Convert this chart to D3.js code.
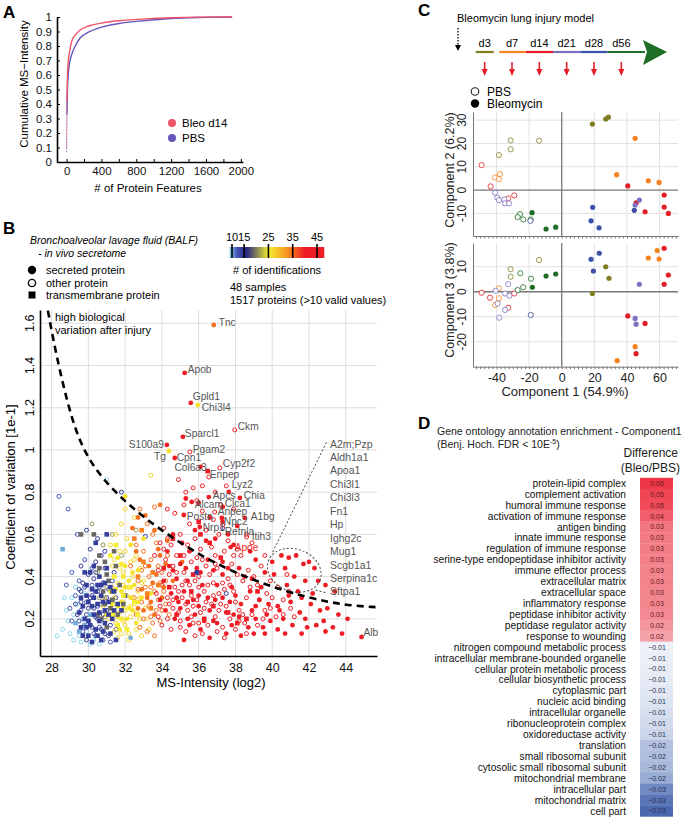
<!DOCTYPE html>
<html>
<head>
<meta charset="utf-8">
<script src="https://cdn.jsdelivr.net/npm/d3@7"></script>
<style>
  body { margin: 0; background: #fff; }
  svg { display: block; font-family: "Liberation Sans", Arial, sans-serif; }
</style>
</head>
<body>
<svg id="fig" width="685" height="818"></svg>
<script>
var FONT = '"Liberation Sans", Arial, sans-serif';

/* ---------- Panel A : cumulative intensity ---------- */
var cumBleo = [[0,0.1],[4,0.42],[10,0.6],[20,0.7],[40,0.78],[60,0.835],[100,0.875],[155,0.91],[250,0.938],[400,0.958],[600,0.974],[900,0.987],[1200,0.995],[1500,0.999],[1900,1]];
var cumPBS  = [[0,0.07],[4,0.33],[10,0.5],[20,0.61],[40,0.7],[70,0.76],[100,0.8],[155,0.855],[250,0.895],[400,0.93],[600,0.955],[900,0.976],[1200,0.99],[1500,0.997],[1900,1]];

/* ---------- Panel B : CV vs intensity ---------- */
var idTicks = [10, 15, 25, 35, 45];
// [intensity(log2), CV] per colour group
var otherCyan = [[28.3,0.12],[28.6,0.15],[28.9,0.19],[29.2,0.22],[29.0,0.13],[29.5,0.12],[28.8,0.24],[29.6,0.09],[30.1,0.08],[29.8,0.32],[31.0,0.86],[29.4,0.27],[29.2,0.1],[29.7,0.2],[30.3,0.1],[29.9,0.14],[30.6,0.08],[29.3,0.35],[29.1,0.3],[28.7,0.3]];
var otherBlue = [[28.4,0.78],[28.9,0.72],[29.4,0.6],[29.8,0.48],[29.1,0.42],[29.5,0.38],[30.2,0.36],[28.8,0.36],[29.3,0.31],[29.9,0.28],[29.6,0.24],[29.1,0.19],[30.0,0.19],[29.7,0.14],[30.3,0.13],[30.6,0.16],[30.8,0.1],[31.2,0.09],[30.5,0.26],[30.9,0.3],[31.3,0.22],[30.2,0.44],[29.0,0.25]];
var otherNavy = [[31.8,0.8],[29.9,0.62],[30.5,0.58],[30.1,0.53],[30.7,0.5],[29.6,0.45],[30.4,0.47],[30.9,0.44],[30.0,0.41],[29.5,0.34],[30.3,0.39],[30.8,0.37],[29.8,0.35],[30.5,0.33],[31.1,0.34],[29.4,0.22],[30.2,0.31],[29.9,0.22],[30.7,0.27],[30.3,0.25],[31.0,0.24],[30.5,0.2],[29.8,0.17],[31.2,0.17],[30.4,0.12],[31.5,0.15],[30.9,0.13],[29.6,0.28],[31.4,0.42],[33.1,0.59],[35.9,0.42],[37.5,0.32],[37.3,0.63],
  [29.7,0.37],[30.1,0.3],[30.4,0.21],[29.5,0.19],[30.8,0.22],[31.1,0.12],[29.9,0.1],[30.6,0.35],[31.3,0.38],[30.0,0.25],[29.3,0.27],[30.7,0.15],[31.0,0.3],[30.2,0.16],[29.6,0.33],[31.5,0.3],[30.4,0.42],[30.9,0.52]];
var otherGreenYellow = [[30.2,0.65],[31.3,0.6],[30.8,0.55],[31.0,0.35],[30.6,0.3],[31.4,0.27],[30.9,0.21],[31.8,0.5],[32.6,0.62],[30.5,0.42]];
var otherYellow = [[33.4,0.88],[32.0,0.72],[31.8,0.65],[32.5,0.68],[31.5,0.6],[32.1,0.58],[32.6,0.5],[31.7,0.52],[32.3,0.47],[31.3,0.45],[31.9,0.42],[32.4,0.4],[31.6,0.37],[32.2,0.35],[32.7,0.33],[31.4,0.3],[31.9,0.28],[32.5,0.27],[31.2,0.25],[31.7,0.23],[32.3,0.21],[32.8,0.2],[31.5,0.18],[32.0,0.17],[32.6,0.15],[31.8,0.13],[32.9,0.12],[31.1,0.2],[30.9,0.3],[32.4,0.3],[33.1,0.25],[32.2,0.1],[31.6,0.11],[33.0,0.38],[32.8,0.44],[31.2,0.55],[30.8,0.26],[33.3,0.15],[31.4,0.14],[32.0,0.24],
  [31.9,0.36],[32.3,0.26],[31.5,0.22],[32.1,0.31],[32.6,0.23],[31.3,0.35],[32.8,0.3],[31.7,0.44],[32.5,0.48],[32.0,0.52],[31.4,0.48],[32.9,0.37],[32.2,0.13],[31.9,0.19],[33.2,0.2]];
var otherOrange = [[32.8,0.72],[33.2,0.65],[33.5,0.6],[32.6,0.55],[33.0,0.52],[33.4,0.48],[33.8,0.45],[32.9,0.43],[33.3,0.4],[34.0,0.42],[32.7,0.38],[33.1,0.35],[33.6,0.33],[34.1,0.33],[32.5,0.3],[32.9,0.28],[33.3,0.26],[33.7,0.24],[32.6,0.22],[33.0,0.2],[33.5,0.18],[32.8,0.16],[33.2,0.14],[34.2,0.27],[34.4,0.22],[33.9,0.19],[33.7,0.56],[34.3,0.5],[32.3,0.45],[33.6,0.12],[33.6,0.73],
  [33.4,0.35],[33.9,0.37],[34.2,0.38],[33.1,0.45],[33.8,0.29],[34.0,0.24],[33.4,0.21],[32.7,0.34]];
var otherRed = [[34.9,0.86],[35.3,0.8],[35.7,0.82],[36.2,0.83],[36.9,0.8],[35.2,0.74],[35.9,0.76],[36.2,0.71],[37.2,0.74],[37.5,0.83],[37.9,0.72],[36.8,0.67],[35.5,0.65],[34.3,0.72],[34.7,0.7],[34.1,0.63],[35.0,0.6],[35.8,0.58],[36.4,0.62],[37.1,0.6],[37.6,0.57],[38.6,0.6],[38.9,0.56],[38.3,0.5],[37.4,0.52],[36.9,0.5],[36.1,0.53],[35.4,0.55],[34.5,0.55],[33.9,0.56],[33.6,0.5],[34.2,0.48],[34.8,0.5],[35.6,0.47],[36.4,0.45],[37.0,0.44],[37.8,0.46],[38.7,0.43],[39.4,0.45],[39.9,0.38],[40.3,0.35],[39.2,0.36],[38.4,0.38],[37.6,0.39],[36.8,0.37],[36.0,0.4],[35.2,0.42],[34.4,0.41],[33.8,0.43],[34.0,0.36],[34.7,0.35],[35.5,0.36],[36.3,0.33],[37.1,0.32],[37.9,0.33],[38.6,0.3],[39.3,0.29],[40.0,0.3],[40.6,0.29],[39.6,0.24],[38.9,0.22],[38.2,0.24],[37.5,0.26],[36.7,0.27],[35.9,0.29],[35.1,0.3],[34.3,0.3],[33.7,0.32],[33.9,0.26],[34.6,0.25],[35.4,0.24],[36.1,0.23],[36.9,0.21],[37.7,0.2],[38.5,0.18],[39.2,0.17],[38.0,0.15],[37.3,0.16],[36.5,0.17],[35.7,0.18],[35.0,0.19],[34.3,0.2],[33.8,0.21],[34.5,0.15],[35.3,0.14],[36.2,0.13],[37.4,0.11],[38.6,0.13],[39.5,0.2],[40.2,0.21],[41.0,0.25],[40.6,0.22],[35.8,0.12],[34.0,0.17],[34.6,0.45],[35.3,0.38],[36.6,0.41],[37.3,0.37],[38.1,0.41],[34.9,0.33],[35.7,0.26],[36.4,0.28],[37.2,0.27],[38.0,0.28],[39.0,0.4],[41.2,0.21],[40.9,0.33],[36.7,0.54],[35.9,0.49],[34.1,0.53],[36.0,0.35],[35.6,0.31],[34.4,0.27],[37.9,0.5],
  [34.8,0.42],[35.1,0.36],[35.8,0.38],[36.5,0.36],[37.4,0.34],[34.9,0.23],[35.6,0.21],[36.3,0.25],[37.1,0.24],[38.4,0.22],[34.6,0.29],[35.3,0.27],[36.8,0.31],[37.7,0.36],[38.8,0.35],[39.7,0.32],[35.0,0.16],[36.0,0.18],[37.0,0.14],[38.2,0.19],[39.9,0.25],[34.3,0.58],[35.2,0.5],[36.2,0.48],[36.9,0.46],[38.1,0.53],[39.6,0.5],[40.8,0.41]];
var secretedCyan = [[32.3,0.11]];
var secretedYellow = [[32.0,0.78],[33.0,0.58],[32.3,0.55],[31.6,0.49],[32.0,0.45],[32.7,0.43],[31.4,0.4],[32.2,0.38],[31.8,0.33],[32.4,0.24],[31.3,0.27],[32.1,0.2],[31.7,0.15],[32.6,0.18],[31.0,0.22],[33.4,0.32],[32.9,0.3],[31.9,0.25],[32.5,0.36],[31.5,0.34],
  [31.8,0.28],[32.3,0.3],[31.6,0.21],[32.0,0.35],[32.7,0.28],[31.2,0.33],[32.4,0.42]];
var secretedOrange = [[33.1,0.69],[32.4,0.63],[33.6,0.62],[33.9,0.5],[32.8,0.48],[33.3,0.45],[34.2,0.46],[33.5,0.37],[32.9,0.34],[34.0,0.3],[33.2,0.3],[32.7,0.25],[33.6,0.22],[33.0,0.24],[34.3,0.57],[34.6,0.38],[35.1,0.47],[33.9,0.74],[32.7,0.68],
  [33.7,0.41],[34.1,0.35],[33.4,0.28],[33.8,0.53],[32.6,0.52]];
var secretedRed = [[35.3,0.77],[36.0,0.75],[36.6,0.68],[37.3,0.66],[38.1,0.64],[36.9,0.58],[35.8,0.62],[35.1,0.56],[34.6,0.6],[37.9,0.55],[38.8,0.52],[39.1,0.48],[38.2,0.44],[37.3,0.41],[36.5,0.48],[35.9,0.44],[35.0,0.46],[34.4,0.45],[39.6,0.42],[40.0,0.47],[40.5,0.5],[40.9,0.49],[41.3,0.5],[41.7,0.46],[42.0,0.47],[42.3,0.44],[40.7,0.44],[41.2,0.4],[41.8,0.38],[42.5,0.38],[42.9,0.36],[43.4,0.33],[42.2,0.32],[40.8,0.36],[41.4,0.33],[39.4,0.35],[38.8,0.33],[37.8,0.35],[37.0,0.36],[36.2,0.36],[35.4,0.38],[34.8,0.39],[34.1,0.38],[34.5,0.32],[35.2,0.33],[36.0,0.31],[36.9,0.29],[37.7,0.28],[38.3,0.27],[39.1,0.26],[39.8,0.27],[40.3,0.26],[41.0,0.28],[41.6,0.3],[42.6,0.24],[43.0,0.25],[41.5,0.23],[40.6,0.2],[39.9,0.19],[39.1,0.2],[38.2,0.21],[37.5,0.23],[36.6,0.24],[35.8,0.22],[35.0,0.25],[34.2,0.24],[34.7,0.2],[35.5,0.17],[36.3,0.19],[37.0,0.18],[37.8,0.17],[38.7,0.16],[39.5,0.16],[40.3,0.15],[41.1,0.17],[41.9,0.16],[42.4,0.17],[42.8,0.19],[43.6,0.22],[44.1,0.2],[43.3,0.16],[43.8,0.13],[41.6,0.13],[40.7,0.13],[35.2,0.1],[36.6,0.11],[37.5,0.13],[38.3,0.12],[39.6,0.13],[36.1,0.15],[34.9,0.28],[33.9,0.29],[34.3,0.52],[37.3,0.47],[38.5,0.4],[40.1,0.41],[39.3,0.29],[40.9,0.31],[42.1,0.27],[36.4,0.57],[37.6,0.6],[35.5,0.52],[38.9,0.39],[36.1,0.92],
  [34.6,0.43],[35.3,0.44],[36.1,0.42],[36.8,0.43],[37.6,0.44],[34.8,0.3],[35.7,0.29],[36.5,0.3],[37.3,0.3],[38.0,0.31],[35.4,0.2],[36.0,0.26],[36.8,0.19],[37.9,0.22],[38.9,0.24],[39.7,0.22],[40.4,0.24],[41.8,0.2],[42.9,0.14],[39.0,0.13]];
var membraneCyan = [[28.6,0.53],[29.5,0.14],[29.8,0.17],[30.1,0.22],[29.3,0.18]];
var membraneNavy = [[31.0,0.6],[30.4,0.56],[29.8,0.42],[30.1,0.42],[30.6,0.4],[30.9,0.37],[30.2,0.34],[30.7,0.31],[29.6,0.3],[30.0,0.28],[30.5,0.27],[30.9,0.24],[30.3,0.22],[29.8,0.2],[30.6,0.19],[30.1,0.17],[30.8,0.14],[29.6,0.16],[30.4,0.15],[31.3,0.2],[31.1,0.28],[29.5,0.23],[30.0,0.12],[30.7,0.1],[31.4,0.33],[29.7,0.26],[30.3,0.3],[31.2,0.13],[30.9,0.18],[31.6,0.27],[31.0,0.44],[31.8,0.24],[30.5,0.36],[29.9,0.36],[30.2,0.09],[31.5,0.1],[35.9,0.42],
  [30.2,0.26],[30.6,0.23],[29.9,0.31],[30.4,0.33],[30.8,0.28],[31.2,0.35],[30.0,0.19],[30.5,0.12],[29.7,0.12],[31.4,0.24],[30.3,0.45],[29.9,0.16],[30.7,0.36],[31.1,0.22]];
var membraneGray = [[30.3,0.6],[30.6,0.5],[30.9,0.47],[31.3,0.29],[30.6,0.44],[31.1,0.38],[31.5,0.45],[30.8,0.33],[31.7,0.36],[31.2,0.25],[30.5,0.22],[31.0,0.16],[32.0,0.31],[31.4,0.52],[29.6,0.6],
  [30.9,0.27],[31.3,0.33],[30.7,0.2],[31.6,0.22],[31.0,0.41],[31.9,0.27]];
var membraneYellow = [[31.5,0.55],[31.2,0.5],[31.8,0.46],[31.9,0.31],[31.6,0.26],[31.3,0.22],[31.6,0.17],[32.2,0.25],[31.9,0.4],[32.3,0.35],[31.8,0.2],[32.5,0.28],[31.4,0.4],[32.1,0.15],[32.7,0.22]];
var membraneOrange = [[32.5,0.58],[33.0,0.47],[33.5,0.42],[32.7,0.4],[33.2,0.32],[33.8,0.36],[33.4,0.25],[32.9,0.62]];
var membraneRed = [[34.6,0.58],[35.0,0.5],[35.7,0.41],[36.1,0.6],[36.6,0.56],[37.2,0.49],[38.1,0.18],[38.6,0.2],[34.4,0.35],[35.4,0.28],[36.8,0.26],[36.0,0.66],[34.1,0.44],[35.6,0.33],[37.6,0.23],[39.2,0.33],[36.3,0.2],[34.8,0.22]];

// labelled proteins: name, intensity, CV, # identifications, type
var labeled = [
  ["Tnc",36.82,1.592,35,"secreted"],["Apob",35.24,1.365,46,"secreted"],["Gpld1",35.57,1.223,46,"secreted"],
  ["Chi3l4",35.95,1.213,26,"secreted"],["Ckm",37.96,1.095,46,"other"],["Sparcl1",35.14,1.062,46,"secreted"],
  ["S100a9",34.27,1.024,46,"secreted"],["Tg",34.38,0.995,26,"secreted"],["Pgam2",35.52,0.991,46,"other"],
  ["Cpn1",34.70,0.962,46,"secreted"],["Col6a3",36.49,0.900,46,"membrane"],["Enpep",36.55,0.872,46,"other"],
  ["Cyp2f2",37.15,0.915,46,"other"],["Lyz2",37.64,0.801,46,"secreted"],["Chia",38.24,0.773,46,"secreted"],
  ["Apcs",36.55,0.777,46,"secreted"],["Alcam",35.62,0.754,46,"secreted"],["Clca1",37.31,0.730,46,"secreted"],
  ["Anpep",36.87,0.706,46,"other"],["A1bg",38.51,0.678,46,"secreted"],["Postn",35.19,0.692,46,"secreted"],
  ["Npc2",37.26,0.678,46,"secreted"],["Nrp1",36.06,0.635,46,"secreted"],["Retnla",37.31,0.645,46,"other"],
  ["Itih3",38.61,0.588,46,"other"],["Apoe",37.74,0.540,46,"secreted"],["Alb",44.86,0.114,46,"secreted"]
];
var labelOffset = {
  Tnc:[5,1],Apob:[3,0],Gpld1:[2,-3],Chi3l4:[4,6],Ckm:[3,0],Sparcl1:[2,0],S100a9:[-3,3,"end"],Tg:[-3,9,"end"],
  Pgam2:[3,1],Cpn1:[2,3],Col6a3:[-1,0,"end"],Enpep:[1,1],Cyp2f2:[3,-1],Lyz2:[3,-4],Chia:[4,1],Apcs:[4,2],
  Alcam:[3,6],Clca1:[2,0],Anpep:[3,3],A1bg:[6,2],Postn:[3,5],Npc2:[2,7],Nrp1:[3,4],Retnla:[2,10],Itih3:[5,3],
  Apoe:[4,4],Alb:[2,-1]
};
var clusterGenes = ["A2m;Pzp","Aldh1a1","Apoa1","Chi3l1","Chi3l3","Fn1","Hp","Ighg2c","Mug1","Scgb1a1","Serpina1c","Sftpa1"];
var hiVarCurve = [[27.8,1.66],[28.2,1.47],[29.1,1.13],[30.0,0.95],[31.3,0.81],[33.0,0.68],[34.8,0.57],[36.8,0.465],[39.3,0.37],[41.9,0.30],[43.9,0.265],[45.7,0.255]];

/* ---------- Panel C : PCA ---------- */
var timepoints = ["d3","d7","d14","d21","d28","d56"];
var tpColors = ["#7f7f22","#f5821f","#e31e26","#7c70c2","#3d4fa6","#1e6e26"];
// [timepoint, component 1, component 2]
var pcaTopPBS = [["d14",-49.1,10.7],["d14",-43.6,1.6],["d14",-32.8,-3.6],["d14",-29.1,-2.3],["d7",-40.9,5.4],["d7",-38.5,4.7],["d7",-37.9,6.9],
  ["d3",-38.5,15],["d3",-31.3,17.5],["d3",-31.3,21.3],["d3",-13.9,21.2],["d21",-40.9,-1.1],["d21",-39.5,-3.3],["d21",-38.5,-4.3],
  ["d21",-35.2,-4.0],["d21",-34.8,-5.7],["d21",-32.3,-5.7],["d56",-25.6,-10.3],["d56",-27,-11.6],["d56",-23.6,-12.6],["d56",-19,-12.6],["d28",-19.2,-13.2]];
var pcaTopBleo = [["d56",-18.2,-9.7],["d56",-9.6,-16.7],["d56",-3.7,-15.9],["d3",18.8,28.3],["d3",27,30.5],["d3",28.6,31.3],
  ["d7",45,22.2],["d7",33.7,6.6],["d7",53.1,4],["d7",59.7,3.3],["d14",40.5,1.8],["d14",62.8,-2.1],["d14",62.8,-7.3],["d14",65.4,-10],
  ["d14",51.1,-9.3],["d14",45.6,-5.5],["d21",45,-6.4],["d21",47.6,-4.3],["d28",44.5,-8.7],["d28",19,-7.4],["d28",18,-13.2],["d28",22.9,-16.2]];
// [timepoint, component 1, component 3]
var pcaBotPBS = [["d14",-49.1,-0.4],["d14",-44,-2.4],["d14",-32.8,-6.4],["d14",-29.1,-0.7],["d7",-40.9,-5.3],["d7",-38.5,1.4],["d7",-38.5,-2.6],
  ["d21",-40.5,0.4],["d21",-39.3,-4.7],["d21",-38.3,-10.4],["d21",-34.8,-0.7],["d21",-32.8,3],["d21",-32.1,-1.6],["d21",-34.8,-7.3],
  ["d3",-31.3,9],["d3",-31.3,6],["d3",-13.9,12.7],["d56",-25.4,7.4],["d56",-27,0.7],["d56",-23.6,1.8],["d56",-18.8,5.2],["d28",-19,-9.3]];
var pcaBotBleo = [["d56",-18,1.8],["d56",-9.6,6.3],["d56",-3.7,7.1],["d28",18,13],["d28",23,15.4],["d28",19.4,8.3],["d21",47.6,3],
  ["d21",45,-10.7],["d21",45.6,-13],["d3",27,10],["d3",29,5.4],["d3",18.8,-0.7],["d7",53.1,13.5],["d7",59.7,13.1],["d7",58.5,16.5],
  ["d7",45,-22],["d7",34,-27.6],["d14",62.8,17.4],["d14",65.4,6.7],["d14",62.8,3],["d14",40.5,-9.7],["d14",51.1,-12.7],["d14",45.6,-24.8]];

/* ---------- Panel D : GO enrichment ---------- */
var goTerms = ["protein-lipid complex","complement activation","humoral immune response","activation of immune response",
  "antigen binding","innate immune response","regulation of immune response","serine-type endopeptidase inhibitor activity",
  "immune effector process","extracellular matrix","extracellular space","inflammatory response","peptidase inhibitor activity",
  "peptidase regulator activity","response to wounding","nitrogen compound metabolic process","intracellular membrane-bounded organelle",
  "cellular protein metabolic process","cellular biosynthetic process","cytoplasmic part","nucleic acid binding","intracellular organelle",
  "ribonucleoprotein complex","oxidoreductase activity","translation","small ribosomal subunit","cytosolic small ribosomal subunit",
  "mitochondrial membrane","intracellular part","mitochondrial matrix","cell part"];
var goDiff = [0.054,0.050,0.048,0.042,0.034,0.033,0.032,0.031,0.030,0.030,0.029,0.029,0.028,0.024,0.020,
  -0.006,-0.007,-0.008,-0.009,-0.010,-0.011,-0.012,-0.013,-0.014,-0.018,-0.019,-0.020,-0.022,-0.027,-0.030,-0.032];

var svg = d3.select("#fig");
svg.append("rect").attr("width", 685).attr("height", 818).attr("fill", "#fff");

function panelLetter(t, x, y) {
  svg.append("text").attr("x", x).attr("y", y).attr("font-size", 17).attr("font-weight", "bold").text(t);
}
function styleAxis(g, size, color) {
  g.attr("font-family", FONT).attr("font-size", size);
  g.selectAll("text").attr("fill", color || "#111");
}

drawA();
drawB();
drawC();
drawD();

function drawA() {
  panelLetter("A", 3, 18);
  var x = d3.scaleLinear().domain([-110, 2025]).range([57, 243]);
  var y = d3.scaleLinear().domain([0, 1]).range([162, 17]);
  var g = svg.append("g");

  var gx = g.append("g").attr("transform", "translate(0,162)")
    .call(d3.axisBottom(x).tickValues(d3.range(0, 2001, 200)).tickSize(-3).tickSizeOuter(0).tickPadding(5)
      .tickFormat(function (d) { return d % 400 === 0 ? d : ""; }));
  styleAxis(gx, 11.5);
  gx.select(".domain").attr("stroke-width", 1.6);

  var gy = g.append("g").attr("transform", "translate(57,0)")
    .call(d3.axisLeft(y).tickValues(d3.range(11).map(function (i) { return i / 10; })).tickSize(-3).tickSizeOuter(0).tickPadding(5)
      .tickFormat(function (d) { return d === 0 ? "0" : d === 1 ? "1" : d3.format(".1f")(d); }));
  styleAxis(gy, 11.5);
  gy.select(".domain").attr("stroke-width", 1.6);

  var line = d3.line().x(function (d) { return x(d[0]); }).y(function (d) { return y(d[1]); }).curve(d3.curveMonotoneX);
  [[cumPBS, "#6655bb"], [cumBleo, "#ee5468"]].forEach(function (s) {
    g.append("path").attr("d", line(s[0].slice(0, 2))).attr("fill", "none").attr("stroke", s[1])
      .attr("stroke-width", 1.2).attr("stroke-dasharray", "1,2");
    g.append("path").attr("d", line(s[0].slice(1))).attr("fill", "none").attr("stroke", s[1]).attr("stroke-width", 1.4);
  });

  g.append("text").attr("transform", "translate(28,84) rotate(-90)").attr("text-anchor", "middle")
    .attr("font-size", 11.5).text("Cumulative MS\u2212Intensity");
  g.append("text").attr("x", 148).attr("y", 192).attr("text-anchor", "middle").attr("font-size", 11.5).text("# of Protein Features");

  [["Bleo d14", "#ee5468", 123], ["PBS", "#6655bb", 138]].forEach(function (l) {
    g.append("circle").attr("cx", 172).attr("cy", l[2]).attr("r", 4).attr("fill", l[1]);
    g.append("text").attr("x", 182).attr("y", l[2] + 4).attr("font-size", 11.5).text(l[0]);
  });
}

function drawB() {
  panelLetter("B", 3, 234);
  var x = d3.scaleLinear().domain([27.37, 45.7]).range([40, 377]);
  var y = d3.scaleLinear().domain([0.024, 1.663]).range([656, 310]);
  var idColor = d3.scaleLinear().domain([9, 12, 16, 25, 33, 40, 48])
    .range(["#8ad8ea", "#4656b6", "#262680", "#f4ee30", "#f7901e", "#ee1c24", "#ee1c24"]);
  var g = svg.append("g");

  // header legend
  g.append("text").attr("x", 30).attr("y", 244).attr("font-size", 10.5).attr("font-style", "italic").text("Bronchoalveolar lavage fluid (BALF)");
  g.append("text").attr("x", 38).attr("y", 257).attr("font-size", 10.5).attr("font-style", "italic").text("- in vivo secretome");
  g.append("circle").attr("cx", 32).attr("cy", 270).attr("r", 4.2).attr("fill", "#000");
  g.append("circle").attr("cx", 32).attr("cy", 283).attr("r", 3.6).attr("fill", "none").attr("stroke", "#000").attr("stroke-width", 1.4);
  g.append("rect").attr("x", 28.5).attr("y", 291.5).attr("width", 7).attr("height", 7).attr("fill", "#000");
  [["secreted protein", 274], ["other protein", 287], ["transmembrane protein", 299]].forEach(function (l) {
    g.append("text").attr("x", 46).attr("y", l[1]).attr("font-size", 11).text(l[0]);
  });

  // colour bar
  var cx = d3.scaleLinear().domain([10, 45]).range([232, 317]);
  var grad = svg.append("defs").append("linearGradient").attr("id", "idgrad");
  idColor.domain().forEach(function (d, i) {
    grad.append("stop").attr("offset", (d - 9) / (48 - 9)).attr("stop-color", idColor.range()[i]);
  });
  g.append("rect").attr("x", cx(9)).attr("y", 247).attr("width", cx(48) - cx(9)).attr("height", 11).attr("fill", "url(#idgrad)");
  idTicks.forEach(function (t) {
    g.append("line").attr("x1", cx(t)).attr("x2", cx(t)).attr("y1", 244).attr("y2", 258).attr("stroke", "#000").attr("stroke-width", 1.6);
    g.append("text").attr("x", cx(t)).attr("y", 241).attr("text-anchor", "middle").attr("font-size", 11).text(t);
  });
  g.append("text").attr("x", 277).attr("y", 274).attr("text-anchor", "middle").attr("font-size", 11).text("# of identifications");
  g.append("text").attr("x", 230).attr("y", 291).attr("font-size", 11).text("48 samples");
  g.append("text").attr("x", 230).attr("y", 304).attr("font-size", 11).text("1517 proteins (>10 valid values)");

  // grid
  var xt = d3.range(28, 45, 2), yt = [0.2, 0.4, 0.6, 0.8, 1, 1.2, 1.4, 1.6];
  g.append("g").selectAll("line").data(xt).join("line")
    .attr("x1", x).attr("x2", x).attr("y1", 310).attr("y2", 656).attr("stroke", "#dedede");
  g.append("g").selectAll("line").data(yt).join("line")
    .attr("y1", y).attr("y2", y).attr("x1", 40).attr("x2", 377).attr("stroke", "#dedede");

  svg.select("defs").append("clipPath").attr("id", "clipB").append("rect")
    .attr("x", 40).attr("y", 310).attr("width", 337).attr("height", 346);
  var pg = g.append("g").attr("clip-path", "url(#clipB)");

  var groups = [
    ["other", 9, otherCyan], ["other", 12, otherBlue], ["other", 14, otherNavy], ["other", 21, otherGreenYellow],
    ["other", 27, otherYellow], ["other", 35, otherOrange], ["other", 46, otherRed],
    ["secreted", 10, secretedCyan], ["secreted", 26, secretedYellow], ["secreted", 35, secretedOrange], ["secreted", 47, secretedRed],
    ["membrane", 10, membraneCyan], ["membrane", 19, membraneGray], ["membrane", 25, membraneYellow],
    ["membrane", 34, membraneOrange], ["membrane", 47, membraneRed], ["membrane", 14, membraneNavy]
  ];
  function drawPts(pts, shape, colorOf) {
    if (shape === "membrane") {
      pg.append("g").selectAll("rect").data(pts).join("rect")
        .attr("x", function (d) { return x(d[0]) - 2.3; }).attr("y", function (d) { return y(d[1]) - 2.3; })
        .attr("width", 4.6).attr("height", 4.6).attr("fill", colorOf);
    } else {
      pg.append("g").selectAll("circle").data(pts).join("circle")
        .attr("cx", function (d) { return x(d[0]); }).attr("cy", function (d) { return y(d[1]); })
        .attr("r", shape === "other" ? 2 : 2.4)
        .attr("fill", shape === "other" ? "none" : colorOf)
        .attr("stroke", shape === "other" ? colorOf : "none").attr("stroke-width", 1);
    }
  }
  groups.forEach(function (gr) { drawPts(gr[2], gr[0], idColor(gr[1])); });
  ["other", "secreted", "membrane"].forEach(function (s) {
    drawPts(labeled.filter(function (d) { return d[4] === s; }).map(function (d) { return [d[1], d[2], d[3]]; }), s,
      function (d) { return idColor(d[2]); });
  });

  // high-variation curve
  g.append("path").attr("clip-path", "url(#clipB)")
    .attr("d", d3.line().x(function (d) { return x(d[0]); }).y(function (d) { return y(d[1]); }).curve(d3.curveBasis)(hiVarCurve))
    .attr("fill", "none").attr("stroke", "#000").attr("stroke-width", 2.6).attr("stroke-dasharray", "7,5");
  g.append("text").attr("x", 55).attr("y", 321).attr("font-size", 11).text("high biological");
  g.append("text").attr("x", 55).attr("y", 334).attr("font-size", 11).text("variation after injury");

  // labels
  labeled.forEach(function (d) {
    var o = labelOffset[d[0]];
    g.append("text").attr("x", x(d[1]) + o[0]).attr("y", y(d[2]) + o[1]).attr("text-anchor", o[2] || "start")
      .attr("font-size", 10.2).attr("fill", d[0] === "Apoe" ? "#ee1c24" : "#555").text(d[0]);
  });

  // cluster annotation
  var ex = x(41.2), ey = y(0.43);
  g.append("ellipse").attr("cx", ex).attr("cy", ey).attr("rx", x(42.7) - x(41.2)).attr("ry", y(0.33) - y(0.43))
    .attr("transform", "rotate(20," + ex + "," + ey + ")")
    .attr("fill", "none").attr("stroke", "#444").attr("stroke-dasharray", "2,2");
  g.append("line").attr("x1", x(40.03)).attr("y1", y(0.517)).attr("x2", x(42.96)).attr("y2", y(1.038))
    .attr("stroke", "#444").attr("stroke-dasharray", "2,2");
  g.append("line").attr("x1", x(42.36)).attr("y1", y(0.336)).attr("x2", x(43.0)).attr("y2", y(0.322))
    .attr("stroke", "#444").attr("stroke-dasharray", "2,2");
  var gy = d3.scalePoint().domain(clusterGenes).range([y(1.03), y(0.33)]);
  g.selectAll(".cg").data(clusterGenes).join("text").attr("x", 330).attr("y", function (d) { return gy(d) + 4; })
    .attr("font-size", 10.5).attr("fill", "#555").text(function (d) { return d; });

  // axes
  var ax = g.append("g").attr("transform", "translate(0,656)")
    .call(d3.axisBottom(x).tickValues(xt).tickSize(0).tickPadding(7).tickSizeOuter(0));
  styleAxis(ax, 12.5);
  ax.select(".domain").attr("stroke-width", 1.6);
  var ay = g.append("g").attr("transform", "translate(40,0)")
    .call(d3.axisLeft(y).tickValues(yt).tickSize(0).tickFormat("").tickSizeOuter(0));
  ay.select(".domain").attr("stroke-width", 1.6);
  g.selectAll(".ytl").data(yt).join("text")
    .attr("transform", function (d) { return "translate(34," + y(d) + ") rotate(-90)"; })
    .attr("text-anchor", "middle").attr("font-size", 12.5).text(function (d) { return d === 1 ? "1" : d3.format(".1f")(d); });
  g.append("text").attr("transform", "translate(15,487) rotate(-90)").attr("text-anchor", "middle")
    .attr("font-size", 13).text("Coefficient of variation [1e-1]");
  g.append("text").attr("x", 211).attr("y", 687).attr("text-anchor", "middle").attr("font-size", 13).text("MS-Intensity (log2)");
}

function drawC() {
  panelLetter("C", 418, 16);
  var g = svg.append("g");
  var color = d3.scaleOrdinal().domain(timepoints).range(tpColors);
  var tb = d3.scaleBand().domain(timepoints).range([471, 635]);

  g.append("text").attr("x", 457).attr("y", 22).attr("font-size", 11).text("Bleomycin lung injury model");
  g.append("line").attr("x1", 458).attr("x2", 458).attr("y1", 28).attr("y2", 46).attr("stroke", "#000")
    .attr("stroke-width", 1.3).attr("stroke-dasharray", "1.5,1.5");
  g.append("path").attr("d", "M455,45 L461,45 L458,51 Z").attr("fill", "#000");

  timepoints.forEach(function (t, i) {
    var c = tb(t) + tb.bandwidth() / 2;
    var x0 = i === 0 ? c - 9 : tb(t) + (i === 1 ? 1 : 0), x1 = i === 0 ? c + 9 : tb(t) + tb.bandwidth();
    g.append("line").attr("x1", x0).attr("x2", i === 5 ? 645 : x1).attr("y1", 52).attr("y2", 52)
      .attr("stroke", color(t)).attr("stroke-width", 2.2);
    g.append("text").attr("x", c).attr("y", 47).attr("text-anchor", "middle").attr("font-size", 11).text(t);
    g.append("line").attr("x1", c).attr("x2", c).attr("y1", 62).attr("y2", 70).attr("stroke", "#e31e26").attr("stroke-width", 1.6);
    g.append("path").attr("d", "M" + (c - 3) + ",69 L" + (c + 3) + ",69 L" + c + ",76 Z").attr("fill", "#e31e26");
  });
  var ae = tb.range()[1];
  g.append("path").attr("d", "M" + (ae + 8) + ",40 L" + (ae + 32) + ",52 L" + (ae + 8) + ",65 L" + (ae + 12) + ",52 Z")
    .attr("fill", color("d56"));

  g.append("circle").attr("cx", 475).attr("cy", 91.5).attr("r", 3.8).attr("fill", "none").attr("stroke", "#222").attr("stroke-width", 1.1);
  g.append("circle").attr("cx", 475).attr("cy", 103.5).attr("r", 4.2).attr("fill", "#000");
  g.append("text").attr("x", 487).attr("y", 95.5).attr("font-size", 12).text("PBS");
  g.append("text").attr("x", 487).attr("y", 108).attr("font-size", 12).text("Bleomycin");

  var x = d3.scaleLinear().domain([-54.4, 71.3]).range([473, 678]);
  var xt = [-40, -20, 0, 20, 40, 60];
  var plots = [
    { y: d3.scaleLinear().domain([-19.7, 33.5]).range([236, 112]), ticks: [-10, 0, 10, 20, 30], pbs: pcaTopPBS, bleo: pcaTopBleo,
      title: "Component 2 (6.2%)", tcy: 170, labels: false },
    { y: d3.scaleLinear().domain([-30, 19.5]).range([366.7, 243]), ticks: [-20, -10, 0, 10], pbs: pcaBotPBS, bleo: pcaBotBleo,
      title: "Component 3 (3.8%)", tcy: 300, labels: true }
  ];
  plots.forEach(function (p) {
    var y = p.y, y0 = y.range()[0], y1 = y.range()[1];
    var pg = g.append("g");
    pg.selectAll(".gx").data(xt.filter(function (d) { return d; })).join("line")
      .attr("x1", x).attr("x2", x).attr("y1", y1).attr("y2", y0).attr("stroke", "#e2e2e2");
    pg.selectAll(".gy").data(p.ticks.filter(function (d) { return d; })).join("line")
      .attr("y1", y).attr("y2", y).attr("x1", 473).attr("x2", 678).attr("stroke", "#e2e2e2");
    pg.append("line").attr("x1", x(0)).attr("x2", x(0)).attr("y1", y1).attr("y2", y0).attr("stroke", "#777").attr("stroke-width", 1.3);
    pg.append("line").attr("x1", 473).attr("x2", 678).attr("y1", y(0)).attr("y2", y(0)).attr("stroke", "#777").attr("stroke-width", 1.3);

    var bx = pg.append("g").attr("transform", "translate(0," + y0 + ")")
      .call(d3.axisBottom(x).tickValues(d3.range(-52.5, 71, 2.5)).tickSize(2.5).tickFormat("").tickSizeOuter(0));
    bx.selectAll("line,path").attr("stroke", "#777");
    if (p.labels) {
      var lx = pg.append("g").attr("transform", "translate(0," + y0 + ")")
        .call(d3.axisBottom(x).tickValues(xt).tickSize(0).tickPadding(6).tickFormat(function (d) { return d; }));
      lx.select(".domain").remove();
      styleAxis(lx, 12.5, "#222");
    }
    var ly = pg.append("g").attr("transform", "translate(473,0)")
      .call(d3.axisLeft(y).tickValues(p.ticks).tickSize(0).tickFormat("").tickSizeOuter(0));
    ly.select(".domain").attr("stroke", "#777");
    pg.selectAll(".ytl").data(p.ticks).join("text")
      .attr("transform", function (d) { return "translate(466," + y(d) + ") rotate(-90)"; })
      .attr("text-anchor", "middle").attr("font-size", 12).attr("fill", "#222").text(function (d) { return d; });
    pg.append("text").attr("transform", "translate(454," + p.tcy + ") rotate(-90)").attr("text-anchor", "middle")
      .attr("font-size", 12.5).attr("fill", "#222").text(p.title);

    pg.selectAll(".pbs").data(p.pbs).join("circle")
      .attr("cx", function (d) { return x(d[1]); }).attr("cy", function (d) { return y(d[2]); }).attr("r", 2.6)
      .attr("fill", "#fff").attr("stroke", function (d) { return color(d[0]); }).attr("stroke-width", 1).attr("stroke-opacity", 0.8);
    pg.selectAll(".bleo").data(p.bleo).join("circle")
      .attr("cx", function (d) { return x(d[1]); }).attr("cy", function (d) { return y(d[2]); }).attr("r", 2.6)
      .attr("fill", function (d) { return color(d[0]); });
  });
  g.append("text").attr("x", 565).attr("y", 396).attr("text-anchor", "middle").attr("font-size", 13).attr("fill", "#222")
    .text("Component 1 (54.9%)");
}

function drawD() {
  panelLetter("D", 418, 429);
  var g = svg.append("g");
  g.append("text").attr("x", 437).attr("y", 435).attr("font-size", 10.5).attr("fill", "#222")
    .text("Gene ontology annotation enrichment - Component1");
  var t = g.append("text").attr("x", 437).attr("y", 448).attr("font-size", 10.5).attr("fill", "#222");
  t.append("tspan").text("(Benj. Hoch. FDR < 10E");
  t.append("tspan").attr("font-size", 7).attr("dy", -4).text("-5");
  t.append("tspan").attr("dy", 4).text(")");
  g.append("text").attr("x", 678).attr("y", 457).attr("text-anchor", "end").attr("font-size", 12).attr("fill", "#222").text("Difference");
  g.append("text").attr("x", 680).attr("y", 472).attr("text-anchor", "end").attr("font-size", 12).attr("fill", "#222").text("(Bleo/PBS)");

  var y = d3.scaleBand().domain(goTerms).range([477.8, 816.4]);
  var pos = d3.scaleLinear().domain([0, 0.02, 0.055]).range(["#fbe4e6", "#f5a3aa", "#ee3545"]);
  var neg = d3.scaleLinear().domain([0, -0.01, -0.02, -0.032]).range(["#ffffff", "#e2e8f3", "#a9b9da", "#4a68b0"]);
  var rows = g.selectAll(".row").data(goTerms).join("g").attr("transform", function (d) { return "translate(0," + y(d) + ")"; });
  rows.append("rect").attr("x", 640).attr("width", 33).attr("height", y.bandwidth() + 0.3)
    .attr("fill", function (d, i) { return goDiff[i] > 0 ? pos(goDiff[i]) : neg(goDiff[i]); });
  rows.append("text").attr("x", 626).attr("y", y.bandwidth() / 2 + 3.6).attr("text-anchor", "end")
    .attr("font-size", 10.2).attr("fill", "#111").text(function (d) { return d; });
  rows.append("text").attr("x", 657).attr("y", y.bandwidth() / 2 + 2.5).attr("text-anchor", "middle")
    .attr("font-size", 7).attr("fill", function (d, i) { return goDiff[i] > 0 ? "#6a1a22" : "#2a3050"; })
    .text(function (d, i) { return d3.format(".2f")(goDiff[i]); });
}
</script>
</body>
</html>
